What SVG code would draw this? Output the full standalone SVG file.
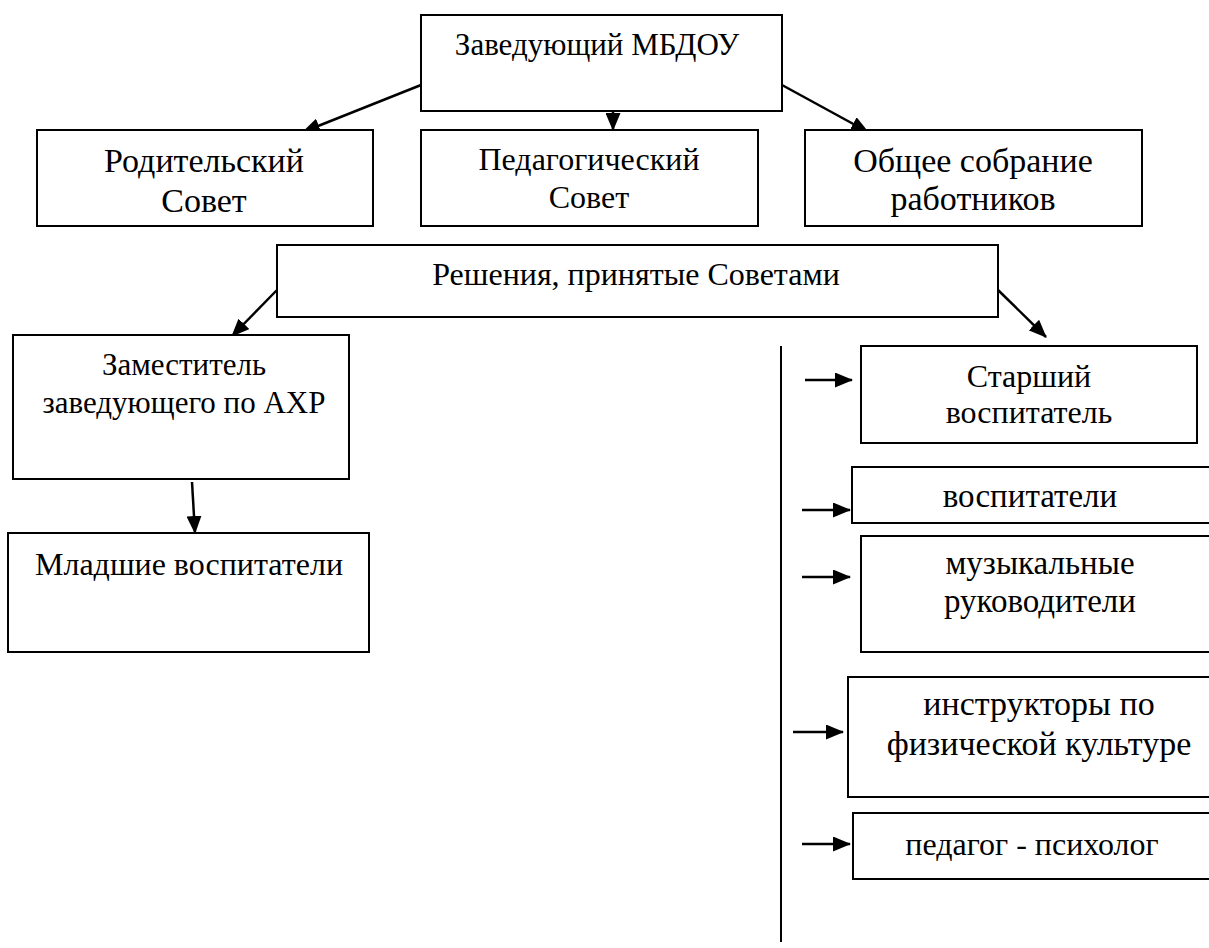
<svg xmlns="http://www.w3.org/2000/svg" width="1209" height="948" viewBox="0 0 1209 948">
<defs>
<marker id="ah" markerWidth="18" markerHeight="15" refX="17" refY="7.5" orient="auto" markerUnits="userSpaceOnUse">
<path d="M0,0 L18,7.5 L0,15 Z" fill="#000"/>
</marker>
<style>
.box{fill:#fff;stroke:#000;stroke-width:2}
.t{fill:#000;text-anchor:middle}
.c{stroke:#000;stroke-width:2.5;fill:none;marker-end:url(#ah)}
.v{stroke:#000;stroke-width:2;fill:none}
</style>
</defs>
<rect width="1209" height="948" fill="#fff"/>
<g id="connectors">
<line class="c" x1="613" y1="106" x2="613" y2="130"/>
<line class="c" x1="421" y1="85" x2="303" y2="132"/>
<line class="c" x1="782" y1="85" x2="868" y2="132"/>
<line class="c" x1="277" y1="290" x2="232" y2="336"/>
<line class="c" x1="998" y1="290" x2="1046" y2="337"/>
<line class="c" x1="192" y1="482" x2="195" y2="533"/>
<line class="v" x1="781" y1="346" x2="781" y2="942"/>
<line class="c" x1="805" y1="380" x2="852" y2="380"/>
<line class="c" x1="802" y1="510" x2="850" y2="510"/>
<line class="c" x1="802" y1="577" x2="850" y2="577"/>
<line class="c" x1="793" y1="732" x2="843" y2="732"/>
<line class="c" x1="802" y1="844" x2="850" y2="844"/>
</g>
<g font-family="Liberation Serif, DejaVu Serif, serif">
<g id="n-zav">
<rect class="box" x="421" y="15" width="361" height="96"/>
<text class="t" x="597" y="55" font-size="31">Заведующий МБДОУ</text>
</g>
<g id="n-rod">
<rect class="box" x="37" y="130" width="336" height="96"/>
<text class="t" x="204" y="172" font-size="34">Родительский</text>
<text class="t" x="204" y="212" font-size="34">Совет</text>
</g>
<g id="n-ped">
<rect class="box" x="421" y="130" width="337" height="96"/>
<text class="t" x="589" y="170" font-size="32">Педагогический</text>
<text class="t" x="589" y="208" font-size="32">Совет</text>
</g>
<g id="n-obsh">
<rect class="box" x="805" y="130" width="337" height="96"/>
<text class="t" x="973" y="172" font-size="34">Общее собрание</text>
<text class="t" x="973" y="210" font-size="34">работников</text>
</g>
<g id="n-resh">
<rect class="box" x="277" y="245" width="721" height="72"/>
<text class="t" x="636" y="285" font-size="32">Решения, принятые Советами</text>
</g>
<g id="n-zam">
<rect class="box" x="13" y="335" width="336" height="144"/>
<text class="t" x="184" y="375" font-size="31">Заместитель</text>
<text class="t" x="184" y="413" font-size="31">заведующего по АХР</text>
</g>
<g id="n-mlad">
<rect class="box" x="8" y="533" width="361" height="119"/>
<text class="t" x="189" y="575" font-size="32">Младшие воспитатели</text>
</g>
<g id="n-star">
<rect class="box" x="861" y="346" width="336" height="97"/>
<text class="t" x="1029" y="387" font-size="32">Старший</text>
<text class="t" x="1029" y="423" font-size="32">воспитатель</text>
</g>
<g id="n-vosp">
<rect class="box" x="852" y="467" width="362" height="56"/>
<text class="t" x="1030" y="507" font-size="33">воспитатели</text>
</g>
<g id="n-muz">
<rect class="box" x="861" y="536" width="353" height="116"/>
<text class="t" x="1040" y="574" font-size="33">музыкальные</text>
<text class="t" x="1040" y="612" font-size="33">руководители</text>
</g>
<g id="n-instr">
<rect class="box" x="848" y="677" width="366" height="120"/>
<text class="t" x="1039" y="715" font-size="34">инструкторы по</text>
<text class="t" x="1039" y="755" font-size="34">физической культуре</text>
</g>
<g id="n-psih">
<rect class="box" x="853" y="813" width="361" height="66"/>
<text class="t" x="1032" y="855" font-size="32">педагог - психолог</text>
</g>
</g>
</svg>
